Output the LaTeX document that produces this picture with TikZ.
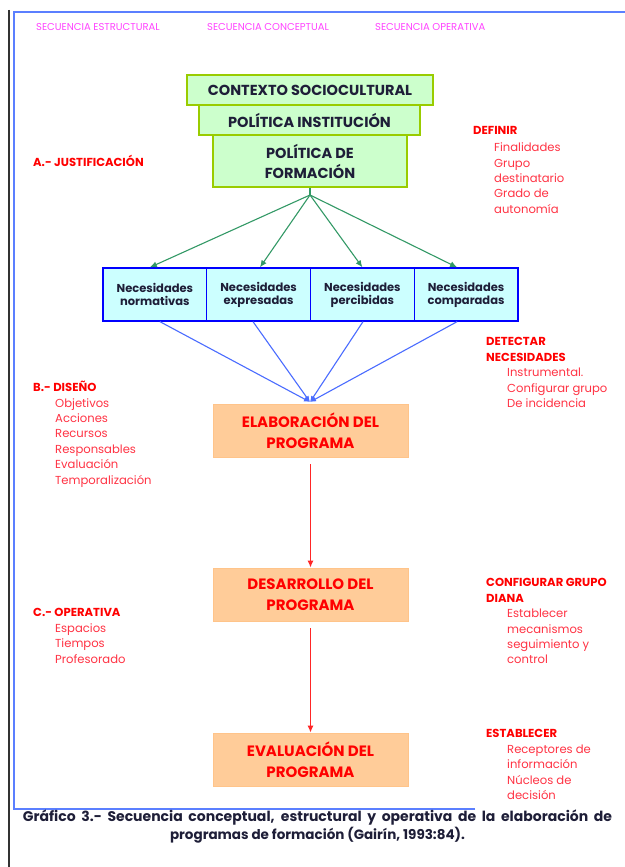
\documentclass[tikz,border=0pt]{standalone}
\usepackage{fontspec}
\setmainfont{Poppins}
\usetikzlibrary{arrows.meta}
\definecolor{hdrmag}{HTML}{FF44FF}
\definecolor{boxgreen}{HTML}{CCFFCC}
\definecolor{boxgreenline}{HTML}{99CC00}
\definecolor{needfill}{HTML}{CCFFFF}
\definecolor{needline}{HTML}{0000FF}
\definecolor{arrowgreen}{HTML}{339966}
\definecolor{arrowblue}{HTML}{4A6CFF}
\definecolor{progfill}{HTML}{FFCC99}
\definecolor{labred}{HTML}{FF0000}
\definecolor{itemred}{HTML}{FF3344}
\definecolor{frameblue}{HTML}{5B7FFF}
\definecolor{darktext}{HTML}{1E1E38}
\tikzset{
  hdr/.style={text=hdrmag, inner sep=0pt, anchor=base west, font=\fontsize{10}{12}\selectfont},
  topbox/.style={draw=boxgreenline, fill=boxgreen, line width=1.5pt, inner sep=0pt,
    text=darktext, align=center, font=\bfseries\fontsize{14.5}{20}\selectfont},
  needbox/.style={draw=needline, fill=needfill, line width=1.3pt, inner sep=0pt,
    minimum width=103.75pt, minimum height=53pt, text=darktext, align=center,
    font=\bfseries\fontsize{11.5}{13}\selectfont},
  progbox/.style={fill=progfill, draw=progfill!90!orange, line width=0.6pt, inner sep=0pt,
    minimum width=195pt, minimum height=53pt, text=labred, align=center,
    font=\bfseries\fontsize{15}{21}\selectfont},
  sidelist/.style={align=left, anchor=north west, inner sep=0pt, text=itemred,
    font=\fontsize{11.6}{15.4}\selectfont},
  greenarrow/.style={draw=arrowgreen, line width=1.1pt, -{Latex[length=7pt,width=6pt]}},
  bluearrow/.style={draw=arrowblue, line width=1.1pt, -{Latex[length=6pt,width=5pt]}},
  redarrow/.style={draw=labred!85!white, line width=1.4pt, -{Latex[length=7pt,width=6pt]}},
  caption/.style={align=center, inner sep=0pt, text=darktext, font=\bfseries\fontsize{13.5}{18.5}\selectfont}
}
\begin{document}
\begin{tikzpicture}[x=1pt,y=-1pt]
\useasboundingbox (0,0) rectangle (624,867);
\fill[white] (0,0) rectangle (624,867);

% page rule and surrounding frame
\draw[black!80, line width=2pt] (9,10) -- (9,867);
\draw[frameblue, line width=2pt] (475,809) -- (14,809) -- (14,12) -- (625,12);

% column headings
\node[hdr] (h1) at (36,31) {SECUENCIA ESTRUCTURAL};
\node[hdr] (h2) at (207,31) {SECUENCIA CONCEPTUAL};
\node[hdr] (h3) at (375,31) {SECUENCIA OPERATIVA};

% stacked policy boxes
\node[topbox, minimum width=246pt, minimum height=30pt] (ctx) at (310,90) {CONTEXTO SOCIOCULTURAL};
\node[topbox, minimum width=221pt, minimum height=30pt] (inst) at (309.5,120) {POLÍTICA INSTITUCIÓN};
\node[topbox, minimum width=194pt, minimum height=52pt] (form) at (310,161) {POLÍTICA DE\\FORMACIÓN};

% needs row
\node[needbox] (n1) at (154.9,294.5) {Necesidades\\normativas};
\node[needbox] (n2) at (258.6,294.5) {Necesidades\\expresadas};
\node[needbox] (n3) at (362.4,294.5) {Necesidades\\percibidas};
\node[needbox] (n4) at (466.1,294.5) {Necesidades\\comparadas};

% programme stages
\node[progbox] (elab) at (310.5,430.5) {ELABORACIÓN DEL\\PROGRAMA};
\node[progbox] (des) at (310.5,594.5) {DESARROLLO DEL\\PROGRAMA};
\node[progbox] (eva) at (310.5,759.5) {EVALUACIÓN DEL\\PROGRAMA};

% fan-out from the training policy
\coordinate (apex) at (310,195);
\draw[arrowgreen, line width=1.1pt] (form.south) -- (apex);
\draw[greenarrow] (apex) -- ([xshift=-5pt]n1.north);
\draw[greenarrow] (apex) -- ([xshift=1.4pt]n2.north);
\draw[greenarrow] (apex) -- (n3.north);
\draw[greenarrow] (apex) -- ([xshift=-9pt]n4.north);

% needs converge on the programme design
\coordinate (meet) at (310,402);
\draw[bluearrow] ([xshift=5pt]n1.south) -- (meet);
\draw[bluearrow] ([xshift=-5.6pt]n2.south) -- (meet);
\draw[bluearrow] ([xshift=0.6pt]n3.south) -- (meet);
\draw[bluearrow] ([xshift=-9pt]n4.south) -- (meet);

% stage sequence
\draw[redarrow, shorten <=7pt] (elab.south) -- (des.north);
\draw[redarrow, shorten <=7pt] (des.south) -- (eva.north);

% structural sequence (left)
\node[sidelist] (lj) at (33,154.5) {\textcolor{labred}{\bfseries A.- JUSTIFICACIÓN}};
\node[sidelist] (ld) at (33,381) {\textcolor{labred}{\bfseries B.- DISEÑO}\\
  \hspace{22pt}Objetivos\\
  \hspace{22pt}Acciones\\
  \hspace{22pt}Recursos\\
  \hspace{22pt}Responsables\\
  \hspace{22pt}Evaluación\\
  \hspace{22pt}Temporalización};
\node[sidelist] (lo) at (33,608.5) {\textcolor{labred}{\bfseries C.- OPERATIVA}\\
  \hspace{22pt}Espacios\\
  \hspace{22pt}Tiempos\\
  \hspace{22pt}Profesorado};

% operative sequence (right)
\node[sidelist] (rd) at (473,126.5) {\textcolor{labred}{\bfseries DEFINIR}\\[1.5pt]
  \hspace{21pt}Finalidades\\
  \hspace{21pt}Grupo\\
  \hspace{21pt}destinatario\\
  \hspace{21pt}Grado de\\
  \hspace{21pt}autonomía};
\node[sidelist] (rn) at (486,337.5) {\textcolor{labred}{\bfseries DETECTAR}\\
  \textcolor{labred}{\bfseries NECESIDADES}\\
  \hspace{21pt}Instrumental.\\
  \hspace{21pt}Configurar grupo\\
  \hspace{21pt}De incidencia};
\node[sidelist] (rc) at (486,578.5) {\textcolor{labred}{\bfseries CONFIGURAR GRUPO}\\
  \textcolor{labred}{\bfseries DIANA}\\
  \hspace{21pt}Establecer\\
  \hspace{21pt}mecanismos\\
  \hspace{21pt}seguimiento y\\
  \hspace{21pt}control};
\node[sidelist] (re) at (486,729.5) {\textcolor{labred}{\bfseries ESTABLECER}\\
  \hspace{21pt}Receptores de\\
  \hspace{21pt}información\\
  \hspace{21pt}Núcleos de\\
  \hspace{21pt}decisión};

% caption
\node[caption] (cap) at (317.5,826.5) {\makebox[589pt][s]{\fontsize{14}{18.5}\selectfont Gráfico 3.- Secuencia conceptual, estructural y operativa de la elaboración de}\\programas de formación (Gairín, 1993:84).};
\end{tikzpicture}
\end{document}
